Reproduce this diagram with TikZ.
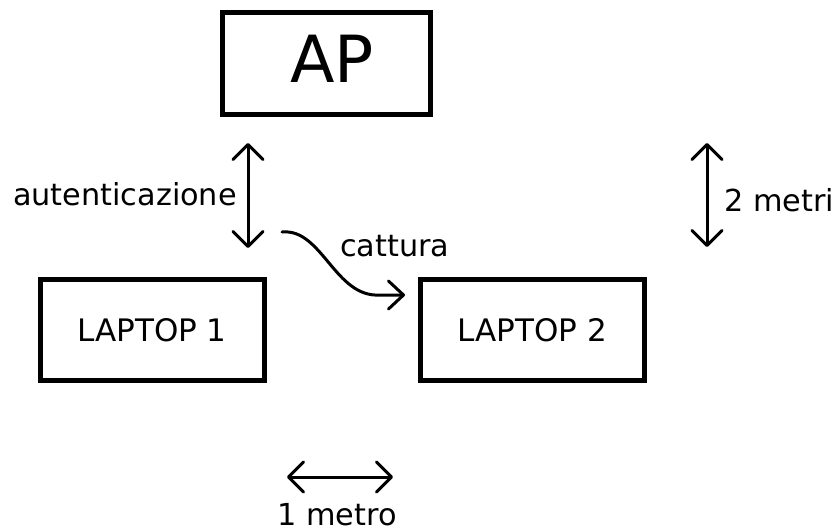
\documentclass[tikz,border=0pt]{standalone}
\usepackage{fontspec}
\setmainfont{DejaVu Sans}
\usetikzlibrary{arrows.meta}
\begin{document}
\begin{tikzpicture}[x=1pt,y=-1pt,
  boxnode/.style={draw=black,line width=5pt,inner sep=0pt,minimum width=224pt,minimum height=101pt,font=\fontsize{31}{36}\selectfont},
  lbl/.style={inner sep=0pt,font=\fontsize{30.3}{36}\selectfont},
  barb/.style={line width=3pt,line cap=round,{Straight Barb[length=15pt,width=30pt,line cap=round,line join=round]}-{Straight Barb[length=15pt,width=30pt,line cap=round,line join=round]}},
  onebarb/.style={line width=3pt,line cap=round,-{Straight Barb[length=15pt,width=28pt,line cap=round,line join=round]}}]
\useasboundingbox (0,0) rectangle (836,531);
\fill[white] (0,0) rectangle (836,531);
\node[boxnode,minimum width=208pt,minimum height=102pt] (ap) at (326.5,63) {};
\node[inner sep=0pt,anchor=base,font=\fontsize{65}{72}\selectfont] (aptext) at (332,82) {AP};
\node[boxnode] (l1) at (152,330) {LAPTOP 1};
\node[boxnode] (l2) at (532.5,330) {LAPTOP 2};
\coordinate (a1) at (248,143);
\coordinate (a2) at (248,248);
\draw[barb] (a1) -- (a2);
\node[lbl,anchor=base east] (auth) at (237,205) {autenticazione};
\coordinate (c1) at (282,232);
\coordinate (c2) at (405,295);
\draw[onebarb] (c1) .. controls (322,228) and (335,298) .. (380,295) -- (c2);
\node[lbl,anchor=base west] (catt) at (340,256) {cattura};
\coordinate (m1) at (707,143);
\coordinate (m2) at (707,247);
\draw[barb] (m1) -- (m2);
\node[lbl,anchor=base west] (due) at (724,211) {2 metri};
\coordinate (h1) at (287,477);
\coordinate (h2) at (393,477);
\draw[barb] (h1) -- (h2);
\node[lbl,anchor=base] (uno) at (337,525) {1 metro};
\end{tikzpicture}
\end{document}
